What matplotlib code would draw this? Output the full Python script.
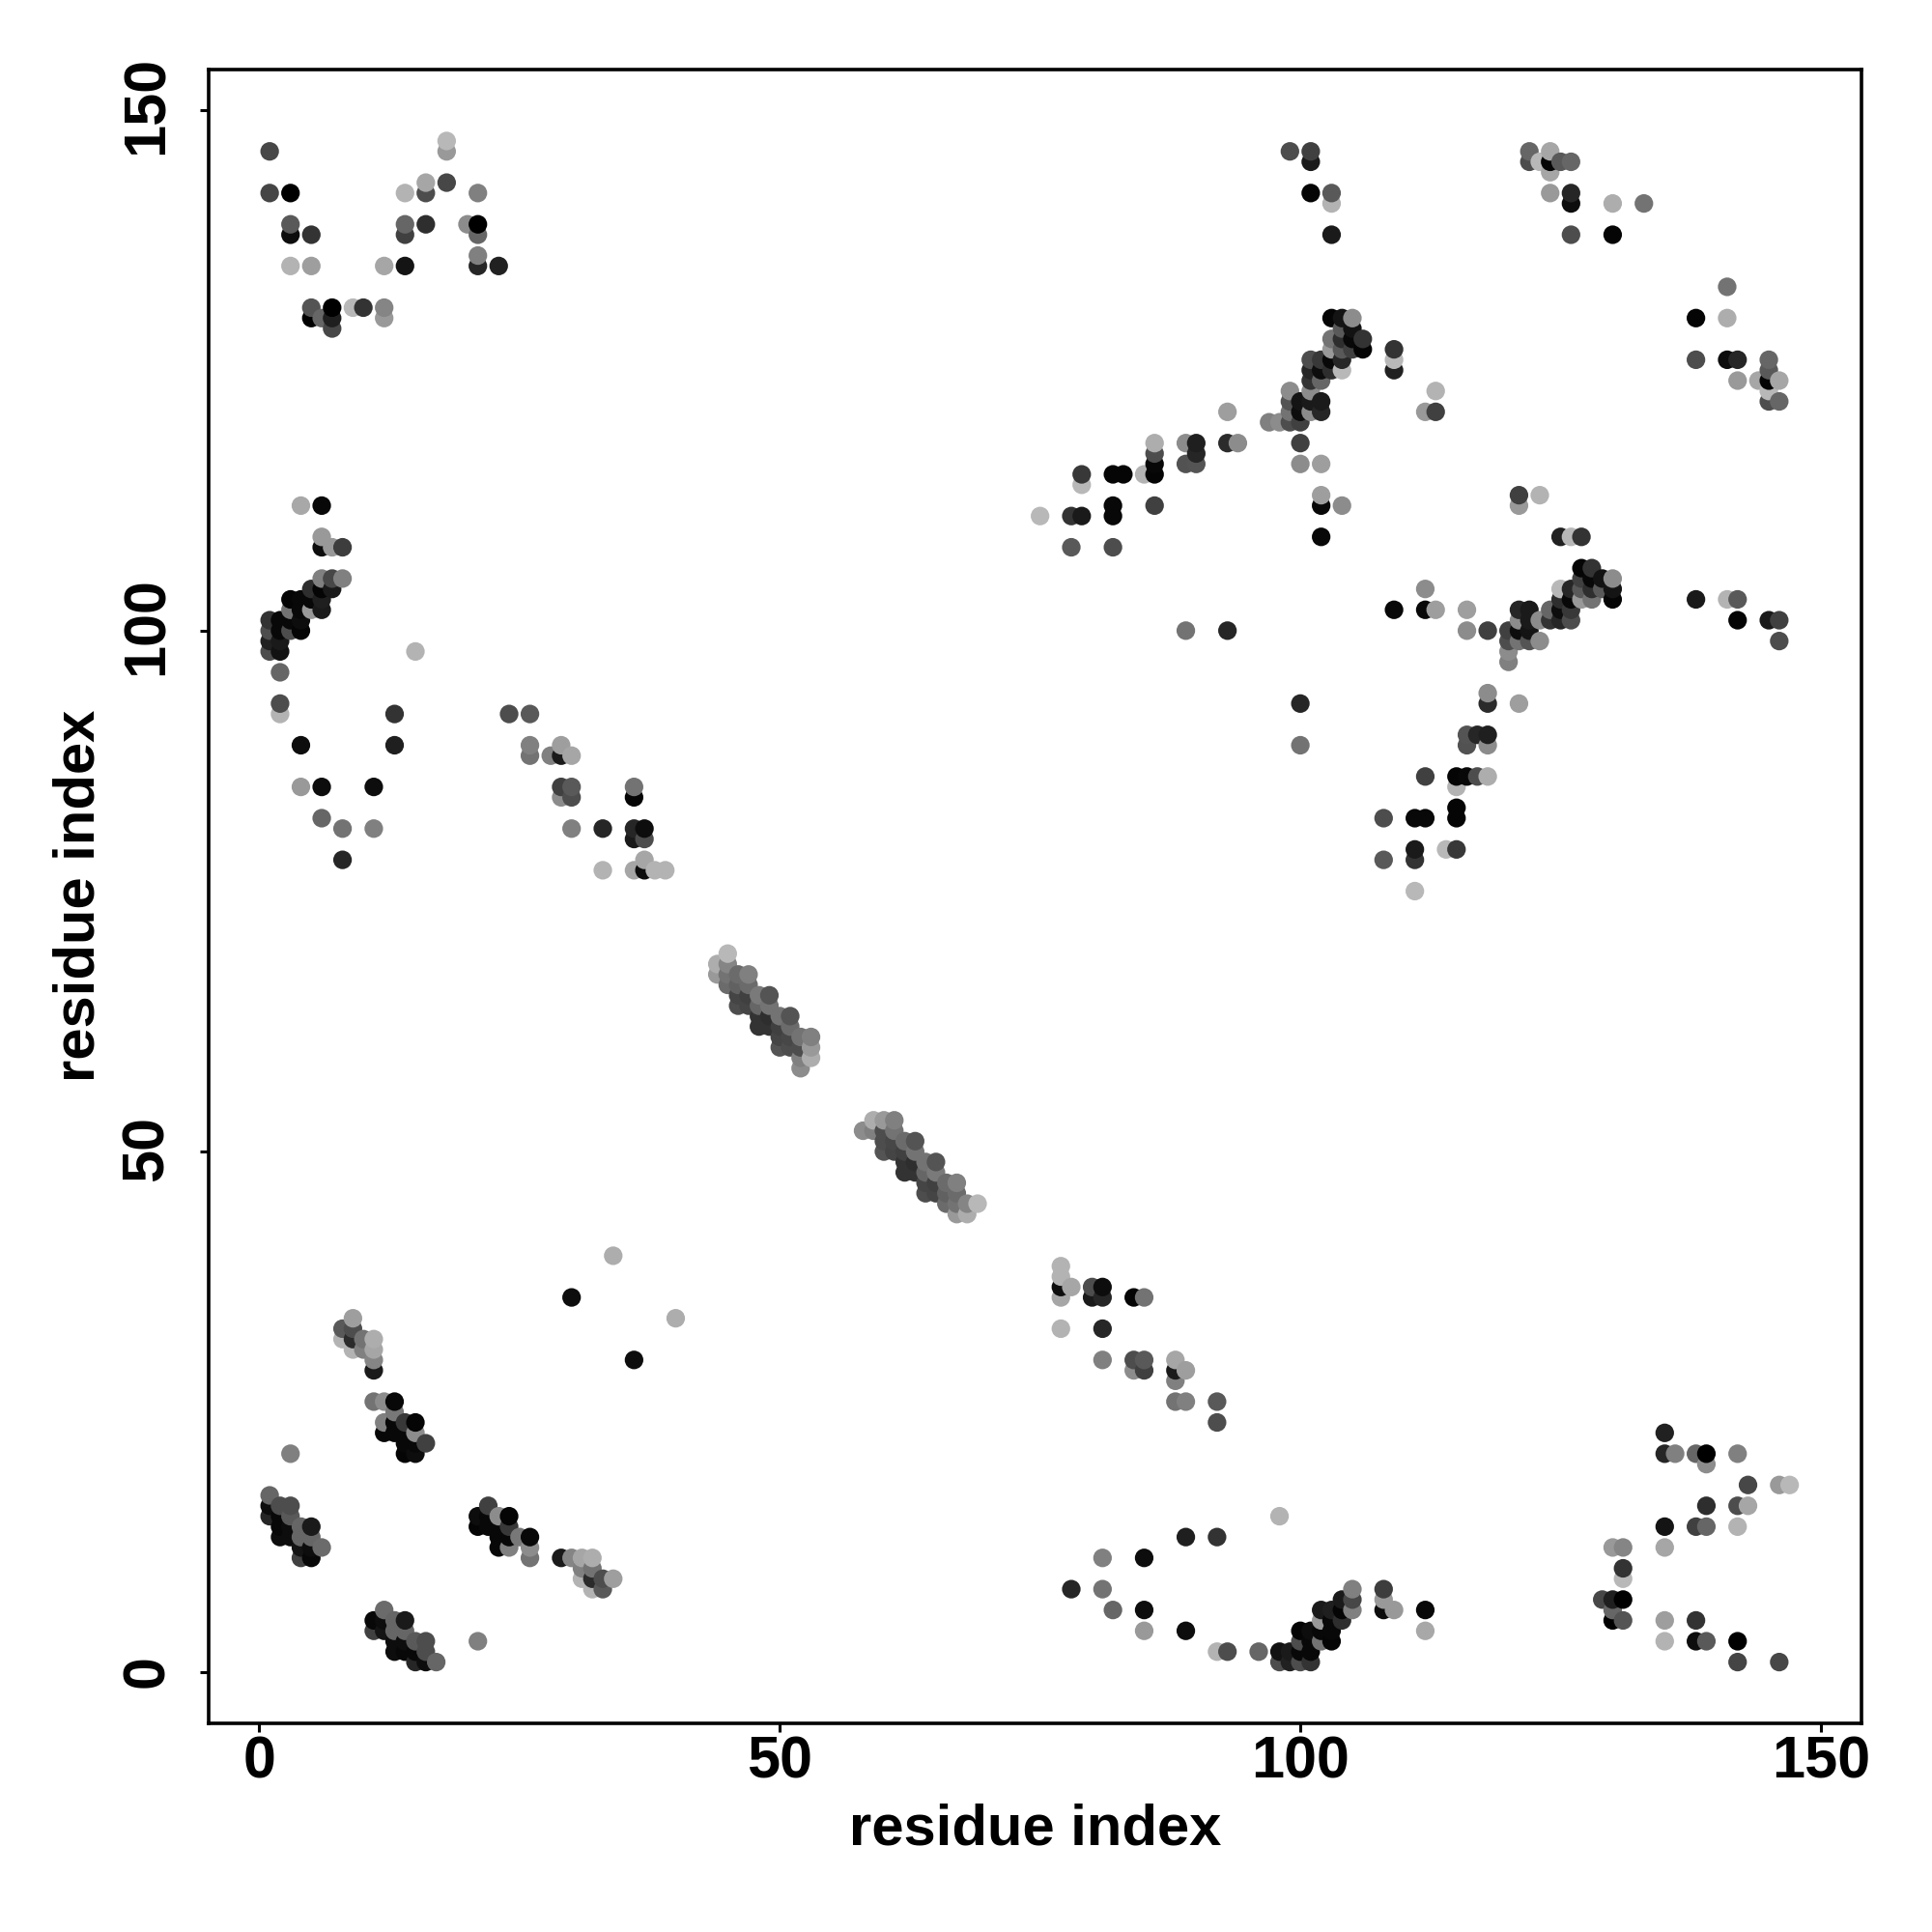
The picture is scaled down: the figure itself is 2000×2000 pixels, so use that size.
import matplotlib
matplotlib.use("Agg")
import matplotlib.pyplot as plt
import numpy as np
from matplotlib.transforms import ScaledTranslation

plt.rcParams['font.family'] = ['Liberation Sans', 'DejaVu Sans']

tick_values = [0, 50, 100, 150]
axis_title = "residue index"

# (i, j, grey level) contacts with i < j; the map is symmetric
region_top_left = [
    (18,147,.72),(18,146,.6),(1,146,.28),(1,142,.27),(3,142,0),(3,139,.35),(3,138,.05),(5,138,.2),
    (14,142,.7),(16,142,.3),(16,143,.65),(18,143,.28),(21,142,.5),(14,139,.4),(14,138,.25),(16,139,.18),
    (20,139,.55),(21,139,0),(21,138,.4),(3,135,.7),(5,135,.62),(12,135,.65),(14,135,.08),(21,136,.5),
    (21,135,.15),(23,135,.13),(5,131,.33),(5,130,0),(6,130,.4),(7,131,0),(7,130,.12),(7,129,.28),
    (9,131,.72),(10,131,.2),(12,131,.52),(12,130,.6),
]
region_left_mid = [
    (4,112,.66),(6,112,.03),(6,109,.6),(6,108,.05),(7,108,.6),(8,108,.24),(6,105,.5),(7,105,.28),(8,105,.5),
    (5,104,.18),(6,104,.02),(7,104,.1),(3,103,.02),(4,103,.03),(5,103,.03),(6,103,.12),(3,102,.45),(4,102,.03),
    (5,102,.6),(6,102,.1),(1,101,.2),(2,101,.03),(3,101,.03),(4,101,.05),(1,100,.3),(2,100,.03),(3,100,.3),
    (4,100,.02),(1,99,.13),(2,99,.1),(1,98,.3),(2,98,.07),(2,96,.4),(2,93,.3),(2,92,.7),(15,98,.7),(13,92,.2),
    (4,89,.05),(13,89,.12),(4,85,.6),(6,85,.05),(11,85,.05),(6,82,.4),(8,81,.45),(11,81,.5),(8,78,.15),
]
region_strand_a = [
    (24,92,.3),(26,92,.35),(26,89,.5),(26,88,.45),(28,88,.5),(29,89,.62),(29,88,.1),(30,88,.65),(29,85,.25),
    (30,85,.35),(29,84,.55),(30,84,.3),(30,81,.5),(33,81,.15),(36,85,.45),(36,84,.02),(36,81,.15),(37,81,.05),
    (36,80,.1),(37,80,.3),(33,77,.7),(36,77,.65),(37,78,.65),(37,77,.05),(38,77,.7),(39,77,.7),
]
region_helix = [
    (44,68,.68),(44,67,.6),(45,69,.72),(45,68,.52),(45,67,.45),(45,66,.42),(46,67,.42),(46,66,.38),(46,65,.27),
    (46,64,.3),(47,67,.5),(47,66,.42),(47,65,.25),(47,64,.27),(48,65,.48),(48,64,.4),(48,63,.2),(48,62,.2),
    (49,65,.33),(49,64,.45),(49,63,.18),(49,62,.2),(50,63,.45),(50,62,.25),(50,61,.27),(50,60,.33),(51,63,.33),
    (51,62,.42),(51,61,.28),(51,60,.3),(52,61,.45),(52,60,.3),(52,59,.5),(52,58,.55),(53,61,.5),(53,60,.6),(53,59,.68),
]
region_upper_diag = [
    (75,111,.72),(78,111,.2),(79,111,.1),(79,114,.72),(79,115,.22),(78,108,.35),(82,108,.3),(82,112,.03),(82,111,.03),
    (82,115,.02),(83,115,.02),(85,115,.7),(86,115,.02),(86,116,.03),(86,117,.3),(86,118,.68),(86,112,.25),(89,118,.55),
    (89,116,.32),(90,118,.12),(90,117,.15),(90,116,.33),(93,121,.62),(93,118,.17),(94,118,.55),(97,120,.5),(98,120,.55),
    (99,120,.3),(100,120,.25),(99,123,.55),(99,122,.33),(99,121,.45),(100,118,.25),(100,116,.55),(102,116,.62),
    (100,122,.08),(100,121,.05),(101,123,.55),(101,122,.1),(101,121,.55),(102,122,.1),(102,121,.15),(102,113,.62),
    (102,112,.03),(102,109,.03),(104,112,.55),(101,126,.3),(101,125,.15),(101,124,.2),(102,126,.22),(102,125,.05),
    (102,124,.4),(103,125,.18),(103,126,.03),(103,127,.6),(103,128,.45),(104,125,.72),(104,126,.15),(104,127,.35),
    (104,128,.18),(104,129,.35),(103,130,.02),(104,130,.08),(105,130,.55),(105,129,.07),(105,128,.03),(105,127,.25),
    (106,128,.2),(106,127,.02),(109,127,.2),(109,126,.72),(109,125,.13),(113,123,.7),(112,121,.6),(113,121,.25),
    (89,100,.45),(93,100,.15),
]
region_top_right = [
    (99,146,.3),(101,146,.25),(101,145,.1),(101,142,.02),(103,142,.35),(103,141,.7),(103,138,.1),(122,146,.4),
    (124,146,.65),(122,145,.3),(123,145,.72),(124,145,.02),(124,144,.65),(125,145,.35),(126,145,.4),(124,142,.6),
    (126,142,.15),(126,141,.05),(126,138,.3),(130,141,.68),(133,141,.45),(130,138,.02),
]
region_low_left = [
    (9,34,.62),(8,33,.35),(8,32,.7),(9,33,.3),(9,32,.17),(9,31,.7),(10,32,.45),(10,31,.5),(11,32,.68),(11,31,.65),
    (11,30,.52),(11,29,.1),(11,26,.45),(12,26,.55),(13,26,.03),(13,25,.47),(12,24,.5),(12,23,.03),(13,24,.03),(13,23,.03),
    (14,24,.22),(14,23,.03),(15,24,.02),(15,23,.55),(14,22,.03),(15,22,.03),(14,21,.02),(15,21,.05),(16,22,.25),(3,21,.5),
    (30,36,.05),(34,40,.68),
]
region_corner = [
    (1,17,.4),(1,16,.05),(1,15,.15),(2,16,.3),(3,16,.3),(2,15,.03),(3,15,.35),(2,14,.03),(2,13,.05),(3,14,.05),
    (3,13,.05),(4,14,.4),(4,13,.4),(5,14,.1),(5,13,.4),(4,12,.08),(5,12,.05),(4,11,.25),(5,11,.03),(6,12,.42),
]

regions = [region_top_left, region_left_mid, region_strand_a, region_helix,
           region_upper_diag, region_top_right, region_low_left, region_corner]
upper = np.array([p for r in regions for p in r], dtype=float)
both = np.vstack([upper, upper[:, [1, 0, 2]]])
both = both[np.lexsort((both[:, 1], both[:, 0]))]

L, R, T, B = 216, 1927, 71.5, 1784
fig = plt.figure(figsize=(10, 10), dpi=200)
ax = fig.add_axes([L/2000, 1-B/2000, (R-L)/2000, (B-T)/2000])
ax.scatter(both[:, 0], both[:, 1], s=48, c=[str(g) for g in both[:, 2]], linewidths=0, zorder=3)
ax.set_xlim(-4.86, 153.9)
ax.set_ylim(-4.88, 153.9)
ax.set_xticks(tick_values)
ax.set_yticks(tick_values)
for s in ax.spines.values():
    s.set_linewidth(1.3)
ax.tick_params(length=3.3, width=1.1)
ax.tick_params(axis='x', pad=1.1)
ax.tick_params(axis='y', pad=9.0)
for t in ax.get_xticklabels():
    t.set_fontsize(22); t.set_fontweight('bold')
for t, v in zip(ax.get_yticklabels(), tick_values):
    t.set_fontsize(22); t.set_fontweight('bold'); t.set_rotation(90)
    t.set_rotation_mode('default'); t.set_va('center')
    nudge = 0.55 * len(str(v)) / 72
    t.set_transform(t.get_transform() + ScaledTranslation(0, nudge, fig.dpi_scale_trans))
ax.set_xlabel(axis_title, fontsize=21.5, fontweight='bold')
ax.set_ylabel(axis_title, fontsize=21.5, fontweight='bold')
ax.xaxis.set_label_coords(0.5, -110/(B-T), transform=ax.transAxes)
ax.yaxis.set_label_coords(-134/(R-L), 0.5, transform=ax.transAxes)
ax.xaxis.label.set_va('center')
ax.yaxis.label.set_va('center')
fig.savefig("out.png", dpi=200, facecolor='white')
